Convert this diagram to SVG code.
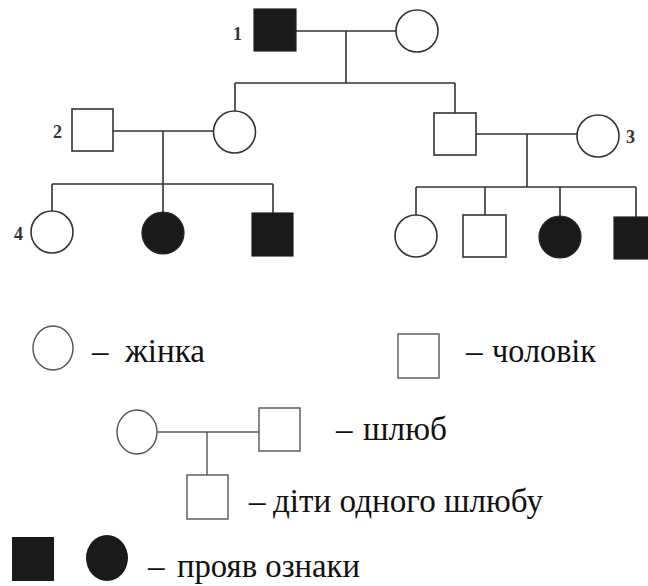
<svg xmlns="http://www.w3.org/2000/svg" width="648" height="586" viewBox="0 0 648 586">
<style>
.o{fill:#fff;stroke:#333;stroke-width:1.6}
.f{fill:#1a1a1a;stroke:#222;stroke-width:1.2}
.ln{stroke:#333;stroke-width:1.6;fill:none}
.lg{stroke:#555;stroke-width:1.4;fill:#fff}
.lgl{stroke:#555;stroke-width:1.4;fill:none}
.n{font-family:"Liberation Serif","DejaVu Serif",serif;font-weight:bold;font-size:18px;fill:#333}
.t{font-family:"Liberation Serif","DejaVu Serif",serif;font-size:33px;fill:#111}
</style>
<rect width="648" height="586" fill="#fff"/>
<g id="connectors">
<path class="ln" d="M296 31H396M346 31V83M235 83H455M235 83V111M455 83V113"/>
<path class="ln" d="M113 131H213M163 131V184M52 184H273M52 184V211M163 184V212M273 184V213"/>
<path class="ln" d="M476 134H577M527 134V187M416 187H636M416 187V215M485 187V215M560 187V216M636 187V217"/>
</g>
<g id="n1"><rect class="f" x="254" y="9" width="42" height="42"/><text class="n" x="233" y="40">1</text></g>
<g id="n1w"><circle class="o" cx="417" cy="31" r="21"/></g>
<g id="n2"><rect class="o" x="72" y="109" width="41" height="42"/><text class="n" x="53" y="138">2</text></g>
<g id="n2w"><circle class="o" cx="234.5" cy="132" r="21"/></g>
<g id="n3h"><rect class="o" x="434" y="113" width="42" height="42"/></g>
<g id="n3"><circle class="o" cx="598" cy="136" r="21"/><text class="n" x="626" y="143">3</text></g>
<g id="n4"><circle class="o" cx="52" cy="232" r="21"/><text class="n" x="14" y="240">4</text></g>
<g id="c2"><circle class="f" cx="163" cy="233" r="21"/></g>
<g id="c3"><rect class="f" x="252" y="213" width="41" height="43"/></g>
<g id="c4"><circle class="o" cx="416" cy="236" r="21"/></g>
<g id="c5"><rect class="o" x="463" y="215" width="43" height="42"/></g>
<g id="c6"><circle class="f" cx="560" cy="237" r="21"/></g>
<g id="c7"><rect class="f" x="614" y="217" width="42" height="42"/></g>
<g id="legend">
<ellipse class="lg" cx="53" cy="348" rx="20" ry="22"/>
<text class="t" y="362"><tspan x="92">–</tspan><tspan x="125" textLength="80" lengthAdjust="spacingAndGlyphs">жінка</tspan></text>
<rect class="lg" x="398" y="334" width="41" height="44"/>
<text class="t" y="362"><tspan x="466">–</tspan><tspan x="492" textLength="104" lengthAdjust="spacingAndGlyphs">чоловік</tspan></text>
<path class="lgl" d="M157 432H259M207 432V475"/>
<ellipse class="lg" cx="137" cy="432" rx="20" ry="22"/>
<rect class="lg" x="259" y="408" width="41" height="43"/>
<text class="t" y="440"><tspan x="336">–</tspan><tspan x="363" textLength="84" lengthAdjust="spacingAndGlyphs">шлюб</tspan></text>
<rect class="lg" x="187" y="475" width="41" height="44"/>
<text class="t" y="512"><tspan x="249">–</tspan><tspan x="273" textLength="270" lengthAdjust="spacingAndGlyphs">діти одного шлюбу</tspan></text>
<rect x="12" y="537" width="42" height="44" fill="#1a1a1a"/>
<ellipse cx="107" cy="558" rx="21" ry="23" fill="#1a1a1a"/>
<text class="t" y="577"><tspan x="148">–</tspan><tspan x="177" textLength="183" lengthAdjust="spacingAndGlyphs">прояв ознаки</tspan></text>
</g>
</svg>
